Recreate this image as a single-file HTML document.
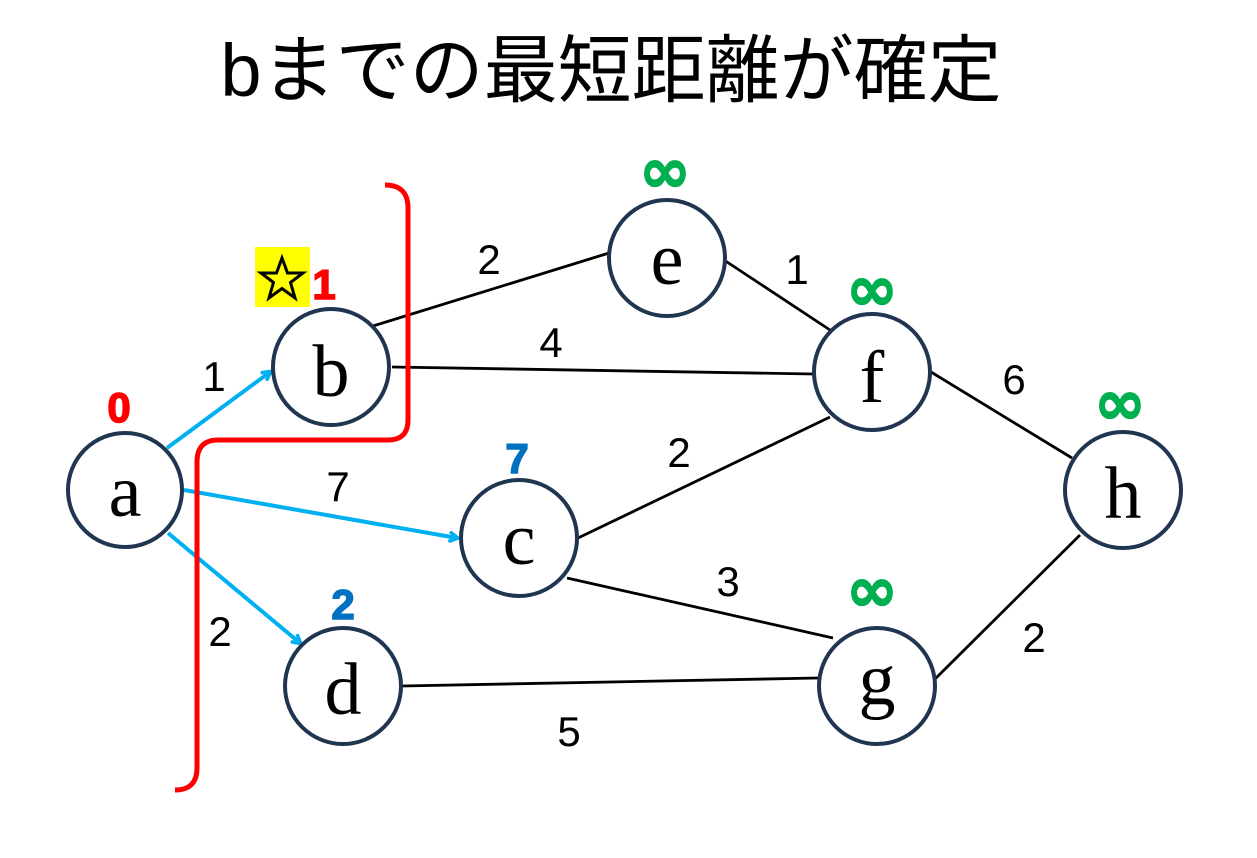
<!DOCTYPE html>
<html><head><meta charset="utf-8"><style>
body{margin:0;background:#fff;}
svg{display:block;}
</style></head><body>
<svg width="1257" height="858" viewBox="0 0 1257 858" xmlns="http://www.w3.org/2000/svg">
<defs>
<marker id="ar" markerWidth="12" markerHeight="12" refX="9" refY="6" orient="auto" markerUnits="userSpaceOnUse">
<path d="M1,1 L10,6 L1,11" fill="none" stroke="#00b0f0" stroke-width="3.5"/>
</marker>
</defs>
<text x="611" y="96" font-family="Liberation Sans, Noto Sans CJK JP, sans-serif" font-size="74" text-anchor="middle">bまでの最短距離が確定</text>
<g stroke="#000" stroke-width="2.8">
<line x1="373" y1="326" x2="609" y2="253"/>
<line x1="392" y1="367" x2="813" y2="374"/>
<line x1="724" y1="260" x2="830" y2="330"/>
<line x1="578" y1="538" x2="830" y2="417"/>
<line x1="567" y1="578" x2="833" y2="638"/>
<line x1="402" y1="686" x2="818" y2="678"/>
<line x1="931" y1="372" x2="1072" y2="458"/>
<line x1="934" y1="680" x2="1080" y2="535"/>
</g>
<g stroke="#00b0f0" stroke-width="4" fill="none" marker-end="url(#ar)">
<line x1="167" y1="448" x2="270" y2="372"/>
<line x1="184" y1="490" x2="457" y2="538"/>
<line x1="168" y1="533" x2="300" y2="643"/>
</g>
<path d="M385,185 Q408,185 408,208 L408,420 Q408,440 388,440 L218,440 Q197,440 197,462 L197,768 Q197,790 175,790" fill="none" stroke="#ff0000" stroke-width="5"/>
<g stroke="#1f3550" stroke-width="4" fill="#fff">
<circle cx="125" cy="490" r="57"/>
<circle cx="331" cy="367" r="58"/>
<circle cx="667" cy="258" r="58"/>
<circle cx="872" cy="372" r="58"/>
<circle cx="519" cy="538" r="58"/>
<circle cx="343" cy="686" r="58"/>
<circle cx="877" cy="686" r="58"/>
<circle cx="1123" cy="490" r="58"/>
</g>
<g font-family="Liberation Serif, serif" font-size="74" text-anchor="middle">
<text x="125" y="516">a</text>
<text x="331" y="396">b</text>
<text x="667" y="284">e</text>
<text x="872" y="402">f</text>
<text x="519" y="564">c</text>
<text x="343" y="714">d</text>
<text x="877" y="704">g</text>
<text x="1123" y="518">h</text>
</g>
<g font-family="Liberation Sans, sans-serif" font-size="42" text-anchor="middle">
<text x="214" y="391">1</text>
<text x="489" y="274">2</text>
<text x="551" y="357">4</text>
<text x="797" y="284">1</text>
<text x="338" y="501">7</text>
<text x="679" y="467">2</text>
<text x="728" y="596">3</text>
<text x="220" y="646">2</text>
<text x="569" y="746">5</text>
<text x="1014" y="394">6</text>
<text x="1034" y="652">2</text>
</g>
<g font-family="Liberation Sans, sans-serif" font-size="42" font-weight="bold" text-anchor="middle" stroke-width="1.5">
<text x="119" y="422" fill="#ff0000" stroke="#ff0000">0</text>
<text x="324" y="299" fill="#ff0000" stroke="#ff0000">1</text>
<text x="517" y="473" fill="#0070c0" stroke="#0070c0">7</text>
<text x="343" y="619" fill="#0070c0" stroke="#0070c0">2</text>
</g>
<g font-family="DejaVu Sans, sans-serif" font-size="62" font-weight="bold" fill="#00b050" stroke="#00b050" stroke-width="1.5" text-anchor="middle">
<text x="665" y="192">∞</text>
<text x="872" y="310">∞</text>
<text x="1120" y="424">∞</text>
<text x="872" y="611">∞</text>
</g>
<rect x="255" y="247" width="55" height="60" fill="#ffff00"/>
<path d="M282,258 L287.5,273 L303,273 L290.5,282.5 L295,298 L282,288.5 L269,298 L273.5,282.5 L261,273 L276.5,273 Z" fill="none" stroke="#000" stroke-width="3"/>
</svg>
</body></html>
